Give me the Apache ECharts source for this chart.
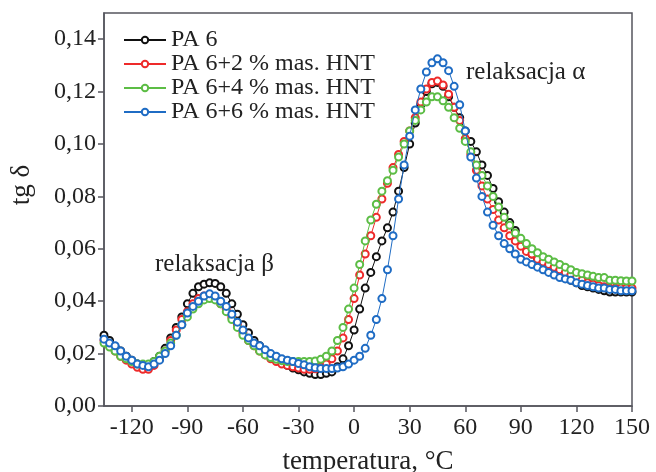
<!DOCTYPE html>
<html>
<head>
<meta charset="utf-8">
<script src="https://cdn.jsdelivr.net/npm/echarts@6/dist/echarts.min.js"></script>
<style>
  html, body { margin: 0; padding: 0; background: #fff; }
  #chart { width: 656px; height: 472px; }
</style>
</head>
<body>
<div id="chart"></div>
<script>
// temperatura, °C
const temps = [-135, -132, -129, -126, -123, -120, -117, -114, -111, -108, -105, -102, -99, -96, -93, -90,
  -87, -84, -81, -78, -75, -72, -69, -66, -63, -60, -57, -54, -51, -48, -45, -42, -39, -36, -33, -30,
  -27, -24, -21, -18, -15, -12, -9, -6, -3, 0, 3, 6, 9, 12, 15, 18, 21, 24, 27, 30, 33, 36, 39, 42,
  45, 48, 51, 54, 57, 60, 63, 66, 69, 72, 75, 78, 81, 84, 87, 90, 93, 96, 99, 102, 105, 108, 111, 114,
  117, 120, 123, 126, 129, 132, 135, 138, 141, 144, 147, 150]

// tg delta, PA 6
const pa6 = [0.027, 0.025, 0.0225, 0.021, 0.019, 0.0175, 0.016, 0.0155, 0.0155, 0.017, 0.019, 0.022, 0.026, 0.030, 0.034, 0.039,
  0.043, 0.0455, 0.0465, 0.047, 0.0468, 0.0455, 0.043, 0.039, 0.035, 0.031, 0.028, 0.025, 0.023, 0.021, 0.019, 0.018, 0.0165, 0.0155, 0.0145, 0.0138,
  0.013, 0.0125, 0.012, 0.012, 0.0125, 0.013, 0.015, 0.018, 0.023, 0.029, 0.037, 0.045, 0.051, 0.057, 0.063, 0.068, 0.074, 0.082, 0.091, 0.100, 0.108, 0.115, 0.120, 0.123,
  0.1235, 0.122, 0.118, 0.114, 0.110, 0.105, 0.101, 0.097, 0.092, 0.088, 0.083, 0.078, 0.074, 0.070, 0.067, 0.063, 0.060, 0.058, 0.056, 0.054, 0.053, 0.051, 0.050, 0.049,
  0.048, 0.047, 0.046, 0.0455, 0.045, 0.0445, 0.044, 0.0435, 0.0435, 0.0435, 0.0435, 0.0435]

// PA 6 + 2 % mas. HNT
const pa6hnt2 = [0.025, 0.023, 0.021, 0.019, 0.0175, 0.016, 0.0148, 0.014, 0.014, 0.0155, 0.018, 0.021, 0.025, 0.029, 0.033, 0.036,
  0.039, 0.041, 0.042, 0.042, 0.041, 0.039, 0.037, 0.034, 0.031, 0.028, 0.025, 0.023, 0.021, 0.0195, 0.018, 0.017, 0.016, 0.0155, 0.015, 0.0145,
  0.014, 0.014, 0.0142, 0.015, 0.016, 0.018, 0.021, 0.026, 0.033, 0.041, 0.050, 0.058, 0.065, 0.072, 0.079, 0.085, 0.091, 0.096, 0.101, 0.105, 0.110, 0.116, 0.121, 0.1235,
  0.124, 0.1225, 0.119, 0.114, 0.109, 0.102, 0.096, 0.090, 0.084, 0.079, 0.075, 0.071, 0.068, 0.065, 0.063, 0.061, 0.059, 0.058, 0.056, 0.055, 0.054, 0.053, 0.052, 0.051,
  0.050, 0.049, 0.048, 0.047, 0.0465, 0.046, 0.0455, 0.045, 0.045, 0.045, 0.045, 0.045]

// PA 6 + 4 % mas. HNT
const pa6hnt4 = [0.024, 0.0225, 0.021, 0.019, 0.018, 0.017, 0.016, 0.016, 0.016, 0.017, 0.019, 0.021, 0.024, 0.027, 0.031, 0.034,
  0.037, 0.039, 0.0405, 0.041, 0.0405, 0.039, 0.036, 0.033, 0.030, 0.027, 0.025, 0.023, 0.021, 0.0195, 0.0185, 0.0178, 0.0173, 0.017, 0.017, 0.017,
  0.017, 0.017, 0.0172, 0.0178, 0.019, 0.021, 0.025, 0.030, 0.037, 0.045, 0.054, 0.063, 0.071, 0.077, 0.082, 0.086, 0.090, 0.095, 0.100, 0.105, 0.109, 0.113, 0.116, 0.118,
  0.118, 0.1165, 0.114, 0.110, 0.106, 0.101, 0.097, 0.092, 0.088, 0.084, 0.080, 0.076, 0.072, 0.069, 0.066, 0.064, 0.062, 0.060, 0.0585, 0.057, 0.056, 0.055, 0.054, 0.053,
  0.052, 0.051, 0.0505, 0.050, 0.0495, 0.049, 0.049, 0.048, 0.048, 0.0478, 0.0477, 0.0477]

// PA 6 + 6 % mas. HNT
const pa6hnt6 = [0.0255, 0.024, 0.023, 0.021, 0.019, 0.0175, 0.016, 0.0155, 0.015, 0.016, 0.0175, 0.020, 0.023, 0.027, 0.031, 0.0355,
  0.038, 0.040, 0.042, 0.0428, 0.042, 0.040, 0.038, 0.035, 0.032, 0.029, 0.026, 0.024, 0.023, 0.0215, 0.020, 0.019, 0.018, 0.0175, 0.017, 0.0162,
  0.0157, 0.015, 0.0146, 0.0143, 0.0143, 0.0143, 0.0145, 0.015, 0.016, 0.0175, 0.019, 0.022, 0.027, 0.033, 0.041, 0.052, 0.065, 0.079, 0.092, 0.103, 0.113, 0.121, 0.1275, 0.131,
  0.1325, 0.131, 0.128, 0.122, 0.115, 0.105, 0.095, 0.087, 0.080, 0.074, 0.069, 0.065, 0.062, 0.060, 0.058, 0.056, 0.055, 0.054, 0.053, 0.052, 0.051, 0.050, 0.049, 0.0485,
  0.048, 0.047, 0.0465, 0.046, 0.0455, 0.045, 0.045, 0.0445, 0.0445, 0.044, 0.044, 0.044]

const xTicks = [-120, -90, -60, -30, 0, 30, 60, 90, 120, 150]
const yTicks = [0, 0.02, 0.04, 0.06, 0.08, 0.10, 0.12, 0.14]

const seriesNames = ['PA 6', 'PA 6+2 % mas. HNT', 'PA 6+4 % mas. HNT', 'PA 6+6 % mas. HNT']
const seriesValues = [pa6, pa6hnt2, pa6hnt4, pa6hnt6]
const seriesColors = ['#111111', '#ee2a2a', '#5cbd45', '#1f6cc4']

const font = 'Liberation Serif'
const axisColor = '#55565e'
const textColor = '#222'

let myChart = echarts.init(document.getElementById('chart'))

let series = []
seriesNames.forEach((name, i) => {
  series.push({
    name: name,
    type: 'line',
    data: temps.map((t, k) => [t, seriesValues[i][k]]),
    symbol: 'emptyCircle',
    symbolSize: 7,
    showAllSymbol: true,
    color: seriesColors[i],
    lineStyle: { width: 1, color: seriesColors[i] },
    itemStyle: { color: seriesColors[i], borderWidth: 1.3 },
    emphasis: { disabled: true },
    z: 2 + i
  })
})

myChart.setOption({
  animation: false,
  textStyle: { fontFamily: font },
  grid: {
    left: 104,
    right: 24,
    top: 13,
    bottom: 66,
    outerBoundsMode: 'none',
    show: true,
    borderColor: axisColor,
    borderWidth: 1.5,
    backgroundColor: 'transparent'
  },
  legend: {
    left: 118,
    top: 23,
    orient: 'vertical',
    itemWidth: 42,
    itemHeight: 8,
    itemGap: 0,
    textStyle: { fontFamily: font, fontSize: 24, lineHeight: 21, color: textColor },
    data: seriesNames
  },
  xAxis: {
    type: 'value',
    min: -135,
    max: 150,
    name: 'temperatura, °C',
    nameLocation: 'middle',
    nameGap: 42,
    nameTextStyle: { fontFamily: font, fontSize: 27, color: textColor },
    splitLine: { show: false },
    axisLine: { onZero: false, lineStyle: { color: axisColor, width: 1.5 } },
    axisTick: { length: 6, lineStyle: { color: axisColor, width: 1.5 }, customValues: xTicks },
    axisLabel: { fontFamily: font, fontSize: 24, color: textColor, margin: 10, customValues: xTicks }
  },
  yAxis: {
    type: 'value',
    min: 0,
    max: 0.15,
    splitLine: { show: false },
    axisLine: { show: true, onZero: false, lineStyle: { color: axisColor, width: 1.5 } },
    axisTick: { show: true, length: 6, lineStyle: { color: axisColor, width: 1.5 }, customValues: yTicks },
    axisLabel: {
      fontFamily: font,
      fontSize: 24,
      color: textColor,
      margin: 8,
      customValues: yTicks,
      formatter: (v) => v.toFixed(2).replace('.', ',')
    }
  },
  graphic: [
    {
      type: 'text',
      x: 22,
      y: 185,
      rotation: Math.PI / 2,
      style: { text: 'tg δ', fontFamily: font, fontSize: 27, fill: textColor, align: 'center', verticalAlign: 'middle' }
    },
    {
      type: 'text',
      left: 155,
      top: 252,
      style: { text: 'relaksacja β', fontFamily: font, fontSize: 25, fill: textColor }
    },
    {
      type: 'text',
      left: 466,
      top: 60,
      style: { text: 'relaksacja α', fontFamily: font, fontSize: 25, fill: textColor }
    }
  ],
  series: series
})
</script>
</body>
</html>
